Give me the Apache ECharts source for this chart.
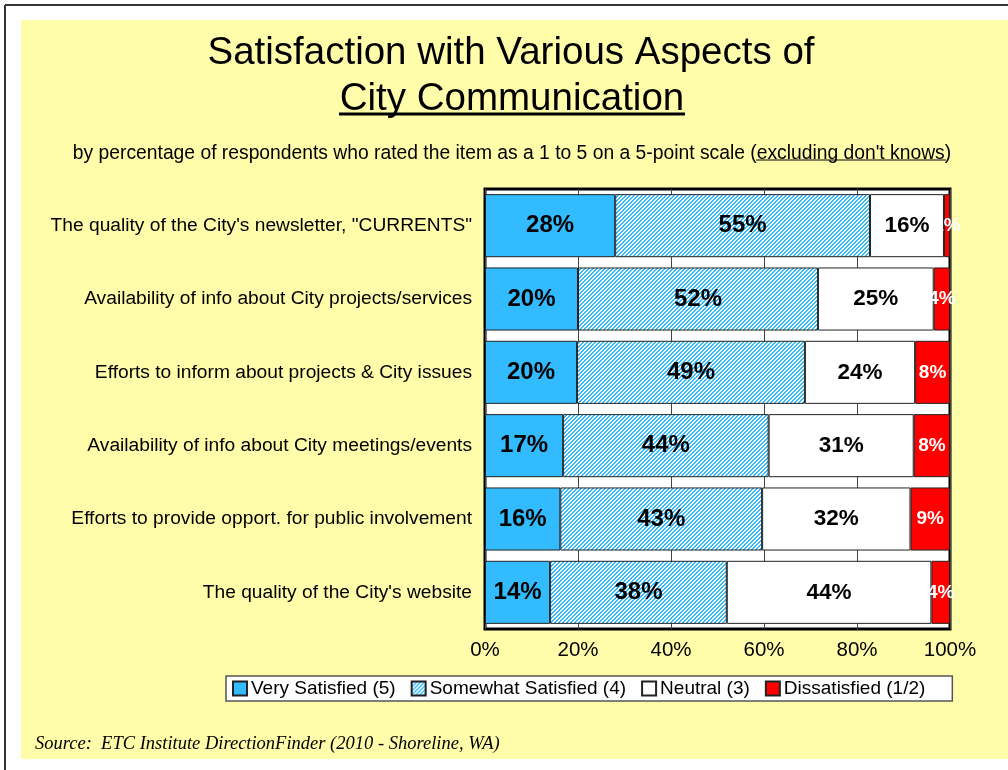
<!DOCTYPE html>
<html>
<head>
<meta charset="utf-8">
<title>Satisfaction with City Communication</title>
<script src="https://cdn.jsdelivr.net/npm/echarts@6/dist/echarts.min.js"></script>
<style>
  html, body { margin: 0; padding: 0; background: #fff; }
  #main { width: 1008px; height: 770px; }
</style>
</head>
<body>
<div id="main"></div>
<script>
// rows, top to bottom
var categories = [
  'The quality of the City\'s newsletter, "CURRENTS"',
  'Availability of info about City projects/services',
  'Efforts to inform about projects & City issues',
  'Availability of info about City meetings/events',
  'Efforts to provide opport. for public involvement',
  'The quality of the City\'s website'
];
// percentages (labels show them rounded)
var verySatisfied = [28.0, 20.0, 19.8, 16.8, 16.2, 14.0];
var somewhatSatisfied = [54.8, 51.6, 49.0, 44.2, 43.4, 38.0];
var neutral = [15.9, 24.9, 23.7, 31.2, 31.9, 44.0];
var dissatisfied = [1.3, 3.5, 7.5, 7.8, 8.5, 4.0];
var xTicks = [0, 20, 40, 60, 80, 100];

var FONT = 'Arial, "Liberation Sans", sans-serif';

// diagonal hatch for "somewhat satisfied", drawn pixel by pixel (no antialias)
function hatch() {
  var c = document.createElement('canvas');
  c.width = 8; c.height = 8;
  var g = c.getContext('2d');
  g.fillStyle = '#ffffff';
  g.fillRect(0, 0, 8, 8);
  g.fillStyle = '#33bbff';
  for (var x = 0; x < 8; x++) {
    for (var y = 0; y < 8; y++) {
      if ((x + y) % 4 < 2) g.fillRect(x, y, 1, 1);
    }
  }
  return { image: c.toDataURL(), repeat: 'repeat' };
}

var chart = echarts.init(document.getElementById('main'), null, { renderer: 'canvas' });

function pct(p) { return Math.round(p.value) + '%'; }

function seg(name, data, color, labelColor, labelSize) {
  return {
    name: name,
    type: 'bar',
    stack: 'all',
    barCategoryGap: '14%',
    data: data,
    itemStyle: { color: color, borderColor: '#222', borderWidth: 1 },
    label: {
      show: true,
      position: 'inside',
      formatter: pct,
      color: labelColor,
      fontFamily: FONT,
      fontWeight: 'bold',
      fontSize: labelSize
    },
    emphasis: { disabled: true }
  };
}

var option = {
  backgroundColor: '#fff',
  animation: false,
  graphic: [
    { type: 'line', shape: { x1: 5, y1: 5, x2: 1008, y2: 5 }, style: { stroke: '#333', lineWidth: 2 }, z: -10 },
    { type: 'line', shape: { x1: 5, y1: 5, x2: 5, y2: 770 }, style: { stroke: '#333', lineWidth: 2 }, z: -10 },
    { type: 'rect', shape: { x: 21, y: 20, width: 987, height: 739 }, style: { fill: '#fffdaa' }, z: -10 },
    // underlines
    { type: 'line', shape: { x1: 339, y1: 114, x2: 685, y2: 114 }, style: { stroke: '#000', lineWidth: 3 } },
    { type: 'line', shape: { x1: 756, y1: 160, x2: 946, y2: 160 }, style: { stroke: '#000', lineWidth: 1 } },
    {
      type: 'text', left: 35, top: 735,
      style: {
        text: 'Source:  ETC Institute DirectionFinder (2010 - Shoreline, WA)',
        font: 'italic 18.5px "Liberation Serif", "Times New Roman", serif',
        fill: '#000'
      }
    }
  ],
  title: [
    {
      text: 'Satisfaction with Various Aspects of',
      left: 506, top: 29, textAlign: 'center',
      textStyle: { fontFamily: FONT, fontWeight: 'normal', fontSize: 38.5, color: '#000' }
    },
    {
      text: 'City Communication',
      left: 507, top: 75, textAlign: 'center',
      textStyle: { fontFamily: FONT, fontWeight: 'normal', fontSize: 38.5, color: '#000' }
    },
    {
      text: 'by percentage of respondents who rated the item as a 1 to 5 on a 5-point scale (excluding don\'t knows)',
      left: 507, top: 139, textAlign: 'center',
      textStyle: { fontFamily: FONT, fontWeight: 'normal', fontSize: 19.3, color: '#000' }
    }
  ],
  legend: {
    left: 226, top: 676,
    backgroundColor: '#fff',
    borderColor: '#555',
    borderWidth: 1.5,
    padding: [3, 27, 3, 6],
    itemGap: 15,
    itemWidth: 14,
    itemHeight: 14,
    icon: 'rect',
    textStyle: { fontFamily: FONT, fontSize: 19, color: '#000', padding: [0, 0, 0, -1] },
    data: ['Very Satisfied (5)', 'Somewhat Satisfied (4)', 'Neutral (3)', 'Dissatisfied (1/2)']
  },
  grid: {
    left: 485, right: 58, top: 189, bottom: 141,
    show: true,
    backgroundColor: '#fff',
    borderColor: '#000',
    borderWidth: 3
  },
  xAxis: {
    type: 'value',
    min: xTicks[0],
    max: xTicks[xTicks.length - 1],
    interval: 20,
    axisLine: { show: false },
    axisTick: { show: false },
    axisLabel: { formatter: '{value}%', fontFamily: FONT, fontSize: 20.5, color: '#000', margin: 11 },
    splitLine: { show: true, lineStyle: { color: '#444', width: 1 } }
  },
  yAxis: {
    type: 'category',
    inverse: true,
    data: categories,
    axisLine: { show: false },
    axisTick: { show: false },
    axisLabel: { fontFamily: FONT, fontSize: 19.2, color: '#000', margin: 13 }
  },
  series: [
    seg('Very Satisfied (5)', verySatisfied, '#33bbff', '#000', 24),
    seg('Somewhat Satisfied (4)', somewhatSatisfied, hatch(), '#000', 24),
    seg('Neutral (3)', neutral, '#fff', '#000', 22.5),
    seg('Dissatisfied (1/2)', dissatisfied, '#ff0000', '#fff', 19)
  ]
};

chart.setOption(option);
</script>
</body>
</html>
